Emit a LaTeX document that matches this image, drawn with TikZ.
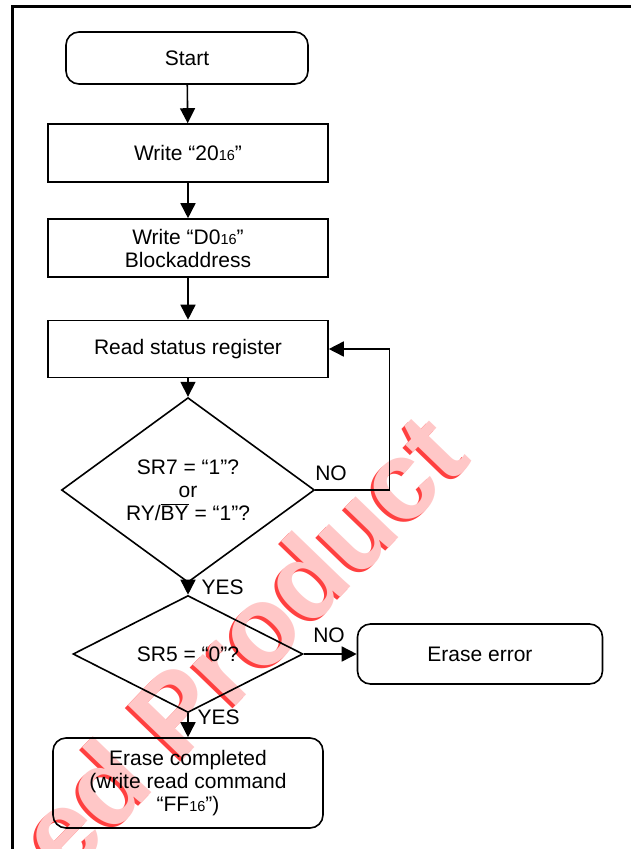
\documentclass[tikz,border=0pt]{standalone}
\usepackage{fontspec}
\setmainfont{Liberation Sans}
\usetikzlibrary{arrows.meta,shapes.geometric,calc}
\newcommand{\hexsub}[1]{#1{\fontsize{14.5}{14.5}\selectfont 16}}

\begin{document}
\begin{tikzpicture}[x=1pt, y=-1pt,
    every node/.style={font=\fontsize{21}{23}\selectfont},
    box/.style={draw, line width=1.6pt, minimum width=280pt, minimum height=58pt, align=center, inner sep=0pt},
    term/.style={box, rounded corners=13pt},
    decision/.style={draw, diamond, line width=1.6pt, align=center, inner sep=0pt},
    flow/.style={line width=1.6pt, -{Triangle[length=15pt, width=15pt]}},
    wmark/.style={rotate=46, font=\fontsize{112}{112}\bfseries\selectfont}]
  \useasboundingbox (0,0) rectangle (631,849);
  \clip (0,0) rectangle (631,849);

  % watermark
  \node (wmshade) [wmark, text=red!75] at (238,646) {ed Product};
  \node (wm) [wmark, text=red!22] at (241,643) {ed Product};

  % frame
  \draw[line width=3pt] (12,849) -- (12,6) -- (631,6);

  % steps
  \node (start) [term, minimum width=242pt, minimum height=52pt] at (187,58) {Start};
  \node (w20) [box] at (188,153) {Write “\hexsub{20}”};
  \node (wd0) [box] at (188,248) {Write “\hexsub{D0}”\\Blockaddress};
  \node (rsr) [box, minimum height=57pt] at (188,349) {Read status register};
  \node (dec1) [decision, minimum width=253pt, minimum height=156pt] at (188,490)
    {SR7 = “1”?\\or\\RY/$\overline{\hbox{BY}}$ = “1”?};
  \node (dec2) [decision, minimum width=230pt, minimum height=92pt] at (188,654) {SR5 = “0”?};
  \node (err) [term, minimum width=245pt, minimum height=60pt] at (480,654) {Erase error};
  \node (done) [term, minimum width=270pt, minimum height=90pt] at (188,783)
    {Erase completed\\(write read command\\“\hexsub{FF}”)};

  % connectors
  \draw[flow] (start) -- (w20);
  \draw[flow] (w20) -- (wd0);
  \draw[flow] (wd0) -- (rsr);
  \draw[flow] (rsr) -- (dec1);
  \draw[flow] (dec1) -- (dec2);
  \draw[flow] (dec2) -- (done);
  \draw[flow] (dec2) -- (err);
  \draw[flow] (dec1.east) -- ++(74,0) |- (rsr.east);

  % branch labels
  \node (no1) at (331,473) {NO};
  \node (yes1) [anchor=west] at (198,587) {YES};
  \node (no2) at (329,635) {NO};
  \node (yes2) [anchor=west] at (194,717) {YES};
\end{tikzpicture}
\end{document}
